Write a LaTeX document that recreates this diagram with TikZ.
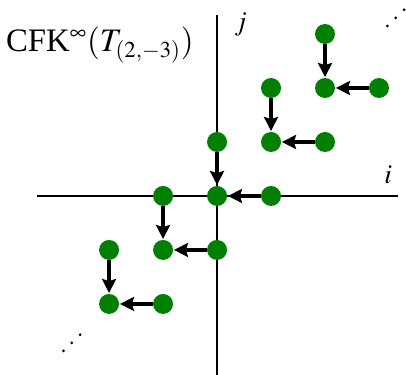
\documentclass[tikz,border=0pt]{standalone}
\usepackage{mathptmx}
\usepackage{fontspec}
\setmainfont{Liberation Serif}
\usetikzlibrary{arrows.meta,positioning}

\tikzset{
  gen/.style={circle, fill=green!50!black, inner sep=0pt, minimum size=3.7mm},
  diff/.style={-{Stealth[length=2.6mm,width=2.6mm,inset=0.4mm]}, line width=2pt, shorten >=0.3pt},
  axis/.style={line width=1.3pt}
}

\begin{document}
\begin{tikzpicture}[font=\Large, on grid, node distance=1cm]
  \useasboundingbox (-4.02,-3.31) rectangle (3.5,3.63);
  % axes
  \coordinate (xl) at (-3.33,0);
  \coordinate (xr) at (3.35,0);
  \coordinate (yb) at (0,-3.31);
  \coordinate (yt) at (0,3.35);
  \draw[axis] (xl) -- (xr);
  \draw[axis] (yb) -- (yt);
  \node (ilab) at (3.17,0.39) {$i$};
  \node (jlab) at (0.44,3.17) {$j$};
  \node[font=\LARGE] (title) at (-2.17,2.8) {CFK$^\infty(T_{(2,-3)})$};

  % generators
  \foreach \n/\p in {a/{0,0}, b/{1,1}, c/{2,2}, d/{-1,-1}, e/{-2,-2}} {
    \node[gen] (\n0) at (\p) {};
    \node[gen, above=of \n0] (\n1) {};
    \node[gen, right=of \n0] (\n2) {};
    \draw[diff] (\n1) -- (\n0);
    \draw[diff] (\n2) -- (\n0);
  }

  % dots
  \foreach \k in {-1,0,1} {
    \fill (3.31+0.155*\k,3.30+0.15*\k) circle (0.028);
    \fill (-2.69+0.155*\k,-2.72+0.15*\k) circle (0.028);
  }
\end{tikzpicture}
\end{document}
